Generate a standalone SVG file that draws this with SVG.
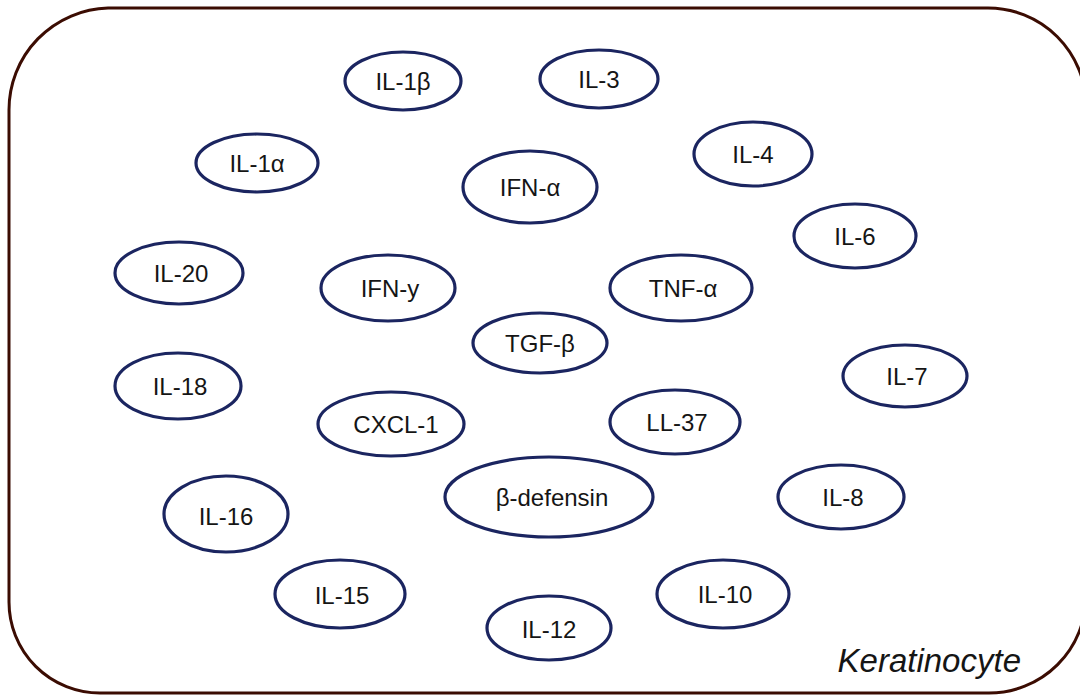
<svg xmlns="http://www.w3.org/2000/svg" width="1080" height="695" viewBox="0 0 1080 695">
<style>
.n ellipse{fill:#fff;stroke:#1b2560;stroke-width:3.2}
.n text{font-family:"Liberation Sans",Arial,sans-serif;font-size:24px;fill:#151515;text-anchor:middle;dominant-baseline:central}
.lbl{font-family:"Liberation Sans",Arial,sans-serif;font-size:33px;font-style:italic;fill:#151515;text-anchor:end}
</style>
<rect width="1080" height="695" fill="#fff"/>
<g id="cell">
<path d="M9,110 A102,102 0 0 1 108,8 L988,8 A98,98 0 0 1 1086,106 L1086,596 A97,97 0 0 1 989,693 L100,693 A91,91 0 0 1 9,602 Z" fill="none" stroke="#3b0c02" stroke-width="3"/>
<text class="lbl" x="1021" y="672">Keratinocyte</text>
</g>
<g id="connectors"></g>
<g id="il1b" class="n"><ellipse cx="403" cy="81" rx="58" ry="29"/><text x="403" y="81">IL-1β</text></g>
<g id="il3" class="n"><ellipse cx="599" cy="79" rx="59" ry="29"/><text x="599" y="79">IL-3</text></g>
<g id="il1a" class="n"><ellipse cx="257" cy="163" rx="61" ry="29"/><text x="257" y="163">IL-1α</text></g>
<g id="ifna" class="n"><ellipse cx="530" cy="187" rx="67" ry="36"/><text x="530" y="187">IFN-α</text></g>
<g id="il4" class="n"><ellipse cx="753" cy="154" rx="59" ry="32"/><text x="753" y="154">IL-4</text></g>
<g id="il6" class="n"><ellipse cx="855" cy="236" rx="61" ry="32"/><text x="855" y="236">IL-6</text></g>
<g id="il20" class="n"><ellipse cx="179" cy="273" rx="64" ry="31"/><text x="181" y="273">IL-20</text></g>
<g id="ifny" class="n"><ellipse cx="388" cy="288" rx="67" ry="33"/><text x="390" y="288">IFN-y</text></g>
<g id="tnfa" class="n"><ellipse cx="681" cy="288" rx="71" ry="33"/><text x="683" y="288">TNF-α</text></g>
<g id="tgfb" class="n"><ellipse cx="540" cy="343" rx="67" ry="30"/><text x="540" y="343">TGF-β</text></g>
<g id="il18" class="n"><ellipse cx="178" cy="386" rx="63" ry="33"/><text x="180" y="386">IL-18</text></g>
<g id="il7" class="n"><ellipse cx="905" cy="376" rx="62" ry="31"/><text x="907" y="376">IL-7</text></g>
<g id="cxcl1" class="n"><ellipse cx="391" cy="424" rx="73" ry="32"/><text x="396" y="424">CXCL-1</text></g>
<g id="ll37" class="n"><ellipse cx="675" cy="422" rx="65" ry="32"/><text x="677" y="422">LL-37</text></g>
<g id="bdef" class="n"><ellipse cx="549" cy="497" rx="104" ry="40"/><text x="552" y="497">β-defensin</text></g>
<g id="il8" class="n"><ellipse cx="841" cy="497" rx="63" ry="32"/><text x="843" y="497">IL-8</text></g>
<g id="il16" class="n"><ellipse cx="226" cy="514" rx="62" ry="38"/><text x="226" y="516">IL-16</text></g>
<g id="il15" class="n"><ellipse cx="340" cy="594" rx="65" ry="34"/><text x="342" y="595">IL-15</text></g>
<g id="il10" class="n"><ellipse cx="723" cy="594" rx="66" ry="34"/><text x="725" y="594">IL-10</text></g>
<g id="il12" class="n"><ellipse cx="549" cy="628" rx="62" ry="32"/><text x="549" y="629">IL-12</text></g>
</svg>
